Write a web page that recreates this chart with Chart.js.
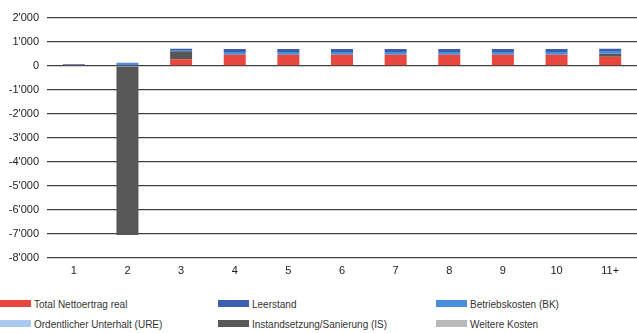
<!DOCTYPE html>
<html>
<head>
<meta charset="utf-8">
<script src="https://cdn.jsdelivr.net/npm/chart.js@4"></script>
<style>
  body { margin: 0; background: #fff; font-family: "Liberation Sans", Arial, sans-serif; }
  #wrap { position: relative; width: 637px; height: 333px; }
  #chart { position: absolute; left: 0; top: 0; }
  #legend { position: absolute; left: 0; top: 296px; width: 637px; }
  .item { position: absolute; font-size: 10px; color: #333; white-space: nowrap; line-height: 14px; }
  .sw { display: inline-block; width: 31px; height: 7px; margin-right: 3px; vertical-align: 1px; }
</style>
</head>
<body>
<div id="wrap">
  <canvas id="chart" width="637" height="285"></canvas>
  <div id="legend"></div>
</div>
<script>
const categories = ['1', '2', '3', '4', '5', '6', '7', '8', '9', '10', '11+'];

const nettoertrag = [40, 0, 280, 470, 470, 470, 470, 470, 470, 470, 380];
const instandsetzung = [0, -7050, 330, 0, 0, 0, 0, 0, 0, 0, 130];
const unterhalt = [0, 0, 0, 0, 0, 0, 0, 0, 0, 0, 0];
const betriebskosten = [0, 130, 55, 110, 110, 110, 110, 110, 110, 110, 110];
const leerstand = [30, 0, 55, 130, 130, 130, 130, 130, 130, 130, 100];
const weitere = [0, 0, 0, 0, 0, 0, 0, 0, 0, 0, 0];

// legend order as in the original, stacking order is bottom -> top
const legendItems = [
  ['Total Nettoertrag real', '#e8473e'],
  ['Leerstand', '#3b5fae'],
  ['Betriebskosten (BK)', '#4a8fdb'],
  ['Ordentlicher Unterhalt (URE)', '#a9c9f0'],
  ['Instandsetzung/Sanierung (IS)', '#575757'],
  ['Weitere Kosten', '#b9b9b9']
];

const datasets = [
  { label: 'Total Nettoertrag real', data: nettoertrag, backgroundColor: '#e8473e' },
  { label: 'Instandsetzung/Sanierung (IS)', data: instandsetzung, backgroundColor: '#575757' },
  { label: 'Ordentlicher Unterhalt (URE)', data: unterhalt, backgroundColor: '#a9c9f0' },
  { label: 'Betriebskosten (BK)', data: betriebskosten, backgroundColor: '#4a8fdb' },
  { label: 'Leerstand', data: leerstand, backgroundColor: '#3b5fae' },
  { label: 'Weitere Kosten', data: weitere, backgroundColor: '#b9b9b9' }
];
datasets.forEach(d => { d.barPercentage = 0.82; d.categoryPercentage = 0.5; d.borderWidth = 0; });

function fmt(v) {
  const s = Math.abs(v).toString().replace(/\B(?=(\d{3})+(?!\d))/g, "'");
  return (v < 0 ? '-' : '') + s;
}

new Chart(document.getElementById('chart'), {
  type: 'bar',
  data: { labels: categories, datasets: datasets },
  options: {
    responsive: false,
    animation: false,
    layout: { padding: { top: 18, right: 0, left: 0, bottom: 0 } },
    plugins: { legend: { display: false }, tooltip: { enabled: false } },
    scales: {
      x: {
        stacked: true,
        grid: { display: false, drawTicks: false },
        border: { display: false },
        ticks: { color: '#222', font: { family: 'Liberation Sans', size: 11 }, padding: 7 }
      },
      y: {
        stacked: true,
        min: -8000, max: 2000,
        grid: { color: '#404040', lineWidth: 1.3, drawTicks: false },
        border: { display: false },
        afterFit: s => { s.width = 47; },
        ticks: {
          stepSize: 1000,
          color: '#222',
          padding: 8,
          font: { family: 'Liberation Sans', size: 11 },
          callback: v => fmt(v)
        }
      }
    }
  }
});

const cols = [0, 218, 436];
const rows = [2, 22];
const legend = document.getElementById('legend');
legendItems.forEach((it, i) => {
  const el = document.createElement('div');
  el.className = 'item';
  el.style.left = cols[i % 3] + 'px';
  el.style.top = rows[Math.floor(i / 3)] + 'px';
  el.innerHTML = '<span class="sw" style="background:' + it[1] + '"></span>' + it[0];
  legend.appendChild(el);
});
</script>
</body>
</html>
